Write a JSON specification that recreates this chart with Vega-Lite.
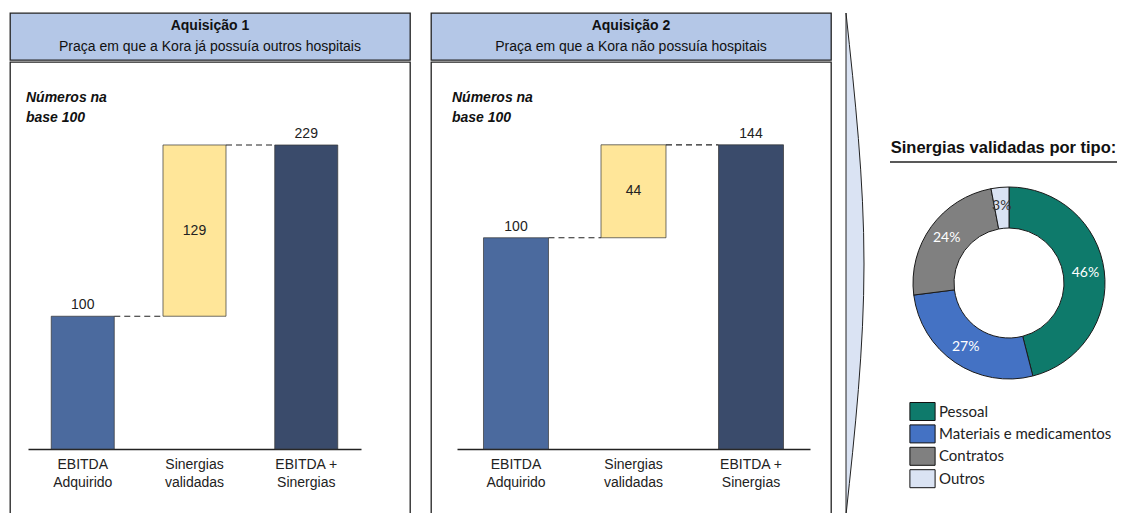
{
  "$schema": "https://vega.github.io/schema/vega-lite/v6.json",
  "background": "white",
  "padding": {"left": 9, "top": 11, "right": 0, "bottom": 0},
  "config": {"view": {"stroke": null}},
  "datasets": {
    "barras": [
      {"painel": "Aquisição 1", "categoria": "EBITDA Adquirido", "tipo": "EBITDA", "inicio": 0, "fim": 100, "valor": 100},
      {"painel": "Aquisição 1", "categoria": "Sinergias validadas", "tipo": "Sinergias", "inicio": 100, "fim": 229, "valor": 129},
      {"painel": "Aquisição 1", "categoria": "EBITDA + Sinergias", "tipo": "Total", "inicio": 0, "fim": 229, "valor": 229},
      {"painel": "Aquisição 2", "categoria": "EBITDA Adquirido", "tipo": "EBITDA", "inicio": 0, "fim": 100, "valor": 100},
      {"painel": "Aquisição 2", "categoria": "Sinergias validadas", "tipo": "Sinergias", "inicio": 100, "fim": 144, "valor": 44},
      {"painel": "Aquisição 2", "categoria": "EBITDA + Sinergias", "tipo": "Total", "inicio": 0, "fim": 144, "valor": 144}
    ],
    "conectores": [
      {"painel": "Aquisição 1", "de": "EBITDA Adquirido", "para": "Sinergias validadas", "nivel": 100},
      {"painel": "Aquisição 1", "de": "Sinergias validadas", "para": "EBITDA + Sinergias", "nivel": 229},
      {"painel": "Aquisição 2", "de": "EBITDA Adquirido", "para": "Sinergias validadas", "nivel": 100},
      {"painel": "Aquisição 2", "de": "Sinergias validadas", "para": "EBITDA + Sinergias", "nivel": 144}
    ],
    "cabecalho": [
      {"painel": "Aquisição 1", "linha": "titulo", "texto": "Aquisição 1"},
      {"painel": "Aquisição 1", "linha": "subtitulo", "texto": "Praça em que a Kora já possuía outros hospitais"},
      {"painel": "Aquisição 2", "linha": "titulo", "texto": "Aquisição 2"},
      {"painel": "Aquisição 2", "linha": "subtitulo", "texto": "Praça em que a Kora não possuía hospitais"}
    ],
    "sinergias": [
      {"tipo": "Pessoal", "pct": 46, "ordem": 1, "rotulo": "46%"},
      {"tipo": "Materiais e medicamentos", "pct": 27, "ordem": 2, "rotulo": "27%"},
      {"tipo": "Contratos", "pct": 24, "ordem": 3, "rotulo": "24%"},
      {"tipo": "Outros", "pct": 3, "ordem": 4, "rotulo": "3%"}
    ],
    "seta": [
      {"p": 0, "b": 0},
      {"p": 0.5, "b": 1},
      {"p": 1, "b": 0}
    ]
  },
  "resolve": {"scale": {"x": "independent", "y": "independent", "color": "independent"}},
  "spacing": 12,
  "hconcat": [
    {
      "spacing": 19,
      "resolve": {"scale": {"x": "independent", "y": "independent", "color": "independent"}},
      "hconcat": [
        {
          "spacing": 0,
          "resolve": {"scale": {"x": "independent", "y": "independent", "color": "independent"}},
          "vconcat": [
            {
              "width": 400, "height": 47,
              "view": {"stroke": "#222", "strokeWidth": 1.3, "fill": "#b4c7e7"},
              "data": {"name": "cabecalho"},
              "transform": [{"filter": "datum.painel == 'Aquisição 1'"}],
              "layer": [
                {
                  "transform": [{"filter": "datum.linha == 'titulo'"}],
                  "mark": {"type": "text", "fontWeight": "bold", "fontSize": 14, "font": "Liberation Sans", "color": "#111"},
                  "encoding": {
                    "y": {"field": "linha", "type": "nominal", "scale": {"type": "point", "domain": ["titulo", "subtitulo"], "padding": 0.6}, "axis": null},
                    "text": {"field": "texto"}
                  }
                },
                {
                  "transform": [{"filter": "datum.linha == 'subtitulo'"}],
                  "mark": {"type": "text", "fontSize": 14, "font": "Liberation Sans", "color": "#111"},
                  "encoding": {
                    "y": {"field": "linha", "type": "nominal", "scale": {"type": "point", "domain": ["titulo", "subtitulo"], "padding": 0.6}, "axis": null},
                    "text": {"field": "texto"}
                  }
                }
              ]
            },
            {
              "width": 400, "height": 453,
              "view": {"stroke": "#222", "strokeWidth": 1.3, "fill": "white"},
              "title": {"text": ["Números na", "base 100"], "anchor": "start", "frame": "group", "orient": "top", "offset": -63, "dx": 16, "baseline": "top", "fontSize": 14, "fontStyle": "italic", "fontWeight": "bold", "font": "Liberation Sans", "color": "#111", "lineHeight": 20},
              "layer": [
                {
                  "data": {"name": "barras"},
                  "transform": [{"filter": "datum.painel == 'Aquisição 1'"}],
                  "mark": {"type": "bar", "stroke": "#333", "strokeWidth": 0.7},
                  "encoding": {
                    "x": {"field": "categoria", "type": "nominal",
                      "scale": {"domain": ["EBITDA Adquirido", "Sinergias validadas", "EBITDA + Sinergias"], "range": [18, 351], "paddingInner": 0.436, "paddingOuter": 0.208},
                      "axis": {"title": null, "orient": "bottom", "offset": -66, "ticks": false, "domainColor": "#222", "domainWidth": 1.5, "labelFont": "Liberation Sans", "labelFontSize": 14, "labelColor": "#222", "labelPadding": 8, "labelLineHeight": 18, "labelAngle": 0,
                        "labelExpr": "datum.label == 'EBITDA Adquirido' ? ['EBITDA', 'Adquirido'] : datum.label == 'Sinergias validadas' ? ['Sinergias', 'validadas'] : ['EBITDA +', 'Sinergias']"}},
                    "y": {"field": "fim", "type": "quantitative", "scale": {"domain": [0, 291.5], "range": [387, 0], "nice": false}, "axis": null},
                    "y2": {"field": "inicio"},
                    "color": {"field": "tipo", "type": "nominal", "scale": {"domain": ["EBITDA", "Sinergias", "Total"], "range": ["#4b6a9e", "#ffe699", "#3a4b6b"]}, "legend": null}
                  }
                },
                {
                  "data": {"name": "conectores"},
                  "transform": [{"filter": "datum.painel == 'Aquisição 1'"}],
                  "mark": {"type": "rule", "color": "#222", "strokeWidth": 1.2, "strokeDash": [6, 4]},
                  "encoding": {
                    "x": {"field": "de", "type": "nominal", "bandPosition": 1},
                    "x2": {"field": "para", "bandPosition": 0},
                    "y": {"field": "nivel", "type": "quantitative"}
                  }
                },
                {
                  "data": {"name": "barras"},
                  "transform": [{"filter": "datum.painel == 'Aquisição 1' && datum.tipo != 'Sinergias'"}],
                  "mark": {"type": "text", "baseline": "bottom", "dy": -4, "fontSize": 14, "font": "Liberation Sans", "color": "#222"},
                  "encoding": {
                    "x": {"field": "categoria", "type": "nominal"},
                    "y": {"field": "fim", "type": "quantitative"},
                    "text": {"field": "valor"}
                  }
                },
                {
                  "data": {"name": "barras"},
                  "transform": [{"filter": "datum.painel == 'Aquisição 1' && datum.tipo == 'Sinergias'"}, {"calculate": "(datum.inicio + datum.fim) / 2", "as": "meio"}],
                  "mark": {"type": "text", "baseline": "middle", "fontSize": 14, "font": "Liberation Sans", "color": "#222"},
                  "encoding": {
                    "x": {"field": "categoria", "type": "nominal"},
                    "y": {"field": "meio", "type": "quantitative"},
                    "text": {"field": "valor"}
                  }
                }
              ]
            }
          ]
        },
        {
          "spacing": 0,
          "resolve": {"scale": {"x": "independent", "y": "independent", "color": "independent"}},
          "vconcat": [
            {
              "width": 400, "height": 47,
              "view": {"stroke": "#222", "strokeWidth": 1.3, "fill": "#b4c7e7"},
              "data": {"name": "cabecalho"},
              "transform": [{"filter": "datum.painel == 'Aquisição 2'"}],
              "layer": [
                {
                  "transform": [{"filter": "datum.linha == 'titulo'"}],
                  "mark": {"type": "text", "fontWeight": "bold", "fontSize": 14, "font": "Liberation Sans", "color": "#111"},
                  "encoding": {
                    "y": {"field": "linha", "type": "nominal", "scale": {"type": "point", "domain": ["titulo", "subtitulo"], "padding": 0.6}, "axis": null},
                    "text": {"field": "texto"}
                  }
                },
                {
                  "transform": [{"filter": "datum.linha == 'subtitulo'"}],
                  "mark": {"type": "text", "fontSize": 14, "font": "Liberation Sans", "color": "#111"},
                  "encoding": {
                    "y": {"field": "linha", "type": "nominal", "scale": {"type": "point", "domain": ["titulo", "subtitulo"], "padding": 0.6}, "axis": null},
                    "text": {"field": "texto"}
                  }
                }
              ]
            },
            {
              "width": 400, "height": 453,
              "view": {"stroke": "#222", "strokeWidth": 1.3, "fill": "white"},
              "title": {"text": ["Números na", "base 100"], "anchor": "start", "frame": "group", "orient": "top", "offset": -63, "dx": 21, "baseline": "top", "fontSize": 14, "fontStyle": "italic", "fontWeight": "bold", "font": "Liberation Sans", "color": "#111", "lineHeight": 20},
              "layer": [
                {
                  "data": {"name": "barras"},
                  "transform": [{"filter": "datum.painel == 'Aquisição 2'"}],
                  "mark": {"type": "bar", "stroke": "#333", "strokeWidth": 0.7},
                  "encoding": {
                    "x": {"field": "categoria", "type": "nominal",
                      "scale": {"domain": ["EBITDA Adquirido", "Sinergias validadas", "EBITDA + Sinergias"], "range": [26, 379], "paddingInner": 0.447, "paddingOuter": 0.2255},
                      "axis": {"title": null, "orient": "bottom", "offset": -66, "ticks": false, "domainColor": "#222", "domainWidth": 1.5, "labelFont": "Liberation Sans", "labelFontSize": 14, "labelColor": "#222", "labelPadding": 8, "labelLineHeight": 18, "labelAngle": 0,
                        "labelExpr": "datum.label == 'EBITDA Adquirido' ? ['EBITDA', 'Adquirido'] : datum.label == 'Sinergias validadas' ? ['Sinergias', 'validadas'] : ['EBITDA +', 'Sinergias']"}},
                    "y": {"field": "fim", "type": "quantitative", "scale": {"domain": [0, 183.2], "range": [387, 0], "nice": false}, "axis": null},
                    "y2": {"field": "inicio"},
                    "color": {"field": "tipo", "type": "nominal", "scale": {"domain": ["EBITDA", "Sinergias", "Total"], "range": ["#4b6a9e", "#ffe699", "#3a4b6b"]}, "legend": null}
                  }
                },
                {
                  "data": {"name": "conectores"},
                  "transform": [{"filter": "datum.painel == 'Aquisição 2'"}],
                  "mark": {"type": "rule", "color": "#222", "strokeWidth": 1.2, "strokeDash": [6, 4]},
                  "encoding": {
                    "x": {"field": "de", "type": "nominal", "bandPosition": 1},
                    "x2": {"field": "para", "bandPosition": 0},
                    "y": {"field": "nivel", "type": "quantitative"}
                  }
                },
                {
                  "data": {"name": "barras"},
                  "transform": [{"filter": "datum.painel == 'Aquisição 2' && datum.tipo != 'Sinergias'"}],
                  "mark": {"type": "text", "baseline": "bottom", "dy": -4, "fontSize": 14, "font": "Liberation Sans", "color": "#222"},
                  "encoding": {
                    "x": {"field": "categoria", "type": "nominal"},
                    "y": {"field": "fim", "type": "quantitative"},
                    "text": {"field": "valor"}
                  }
                },
                {
                  "data": {"name": "barras"},
                  "transform": [{"filter": "datum.painel == 'Aquisição 2' && datum.tipo == 'Sinergias'"}, {"calculate": "(datum.inicio + datum.fim) / 2", "as": "meio"}],
                  "mark": {"type": "text", "baseline": "middle", "fontSize": 14, "font": "Liberation Sans", "color": "#222"},
                  "encoding": {
                    "x": {"field": "categoria", "type": "nominal"},
                    "y": {"field": "meio", "type": "quantitative"},
                    "text": {"field": "valor"}
                  }
                }
              ]
            }
          ]
        }
      ]
    },
    {
      "spacing": 23,
      "resolve": {"scale": {"x": "independent", "y": "independent", "color": "independent"}},
      "hconcat": [
        {
          "width": 18, "height": 502,
          "data": {"name": "seta"},
          "mark": {"type": "area", "orient": "horizontal", "fill": "#dae3f3", "stroke": "#222", "strokeWidth": 1, "interpolate": "monotone"},
          "encoding": {
            "y": {"field": "p", "type": "quantitative", "scale": {"domain": [0, 1], "nice": false}, "axis": null},
            "x": {"field": "b", "type": "quantitative", "scale": {"domain": [0, 1], "nice": false}, "axis": null}
          }
        },
        {
          "spacing": 0,
          "vconcat": [
            {
              "width": 227, "height": 149,
              "data": {"values": [{"texto": "Sinergias validadas por tipo:"}]},
              "layer": [
                {
                  "mark": {"type": "text", "baseline": "alphabetic", "dy": -9, "fontSize": 16.5, "fontWeight": "bold", "font": "Liberation Sans", "color": "#111"},
                  "encoding": {
                    "y": {"datum": 0, "type": "quantitative", "scale": {"domain": [0, 1], "nice": false}, "axis": null},
                    "text": {"field": "texto"}
                  }
                },
                {
                  "mark": {"type": "rule", "color": "#222", "strokeWidth": 1.3},
                  "encoding": {
                    "y": {"datum": 0, "type": "quantitative"}
                  }
                }
              ]
            },
            {
              "width": 238, "height": 240,
              "data": {"name": "sinergias"},
              "layer": [
                {
                  "mark": {"type": "arc", "outerRadius": 96, "innerRadius": 55, "stroke": "#1a1a1a", "strokeWidth": 1},
                  "encoding": {
                    "theta": {"field": "pct", "type": "quantitative", "stack": true},
                    "order": {"field": "ordem", "type": "quantitative"},
                    "color": {"field": "tipo", "type": "nominal",
                      "scale": {"domain": ["Pessoal", "Materiais e medicamentos", "Contratos", "Outros"], "range": ["#0e7a6b", "#4472c4", "#808080", "#dae3f3"]},
                      "legend": {"orient": "none", "legendX": 23, "legendY": 389, "title": null, "symbolType": "M-1.4,-1H1.4V1H-1.4Z", "symbolSize": 324, "symbolStrokeColor": "#111", "symbolStrokeWidth": 1, "symbolOpacity": 1, "labelFont": "Lato", "labelFontSize": 15, "labelColor": "#222", "labelLimit": 260, "rowPadding": -0.6, "labelOffset": 7}}
                  }
                },
                {
                  "mark": {"type": "text", "radius": 77, "font": "Lato", "fontSize": 14},
                  "encoding": {
                    "theta": {"field": "pct", "type": "quantitative", "stack": true},
                    "order": {"field": "ordem", "type": "quantitative"},
                    "text": {"field": "rotulo"},
                    "color": {"condition": {"test": "datum.tipo == 'Outros'", "value": "#333"}, "value": "white"}
                  }
                }
              ]
            }
          ]
        }
      ]
    }
  ]
}
